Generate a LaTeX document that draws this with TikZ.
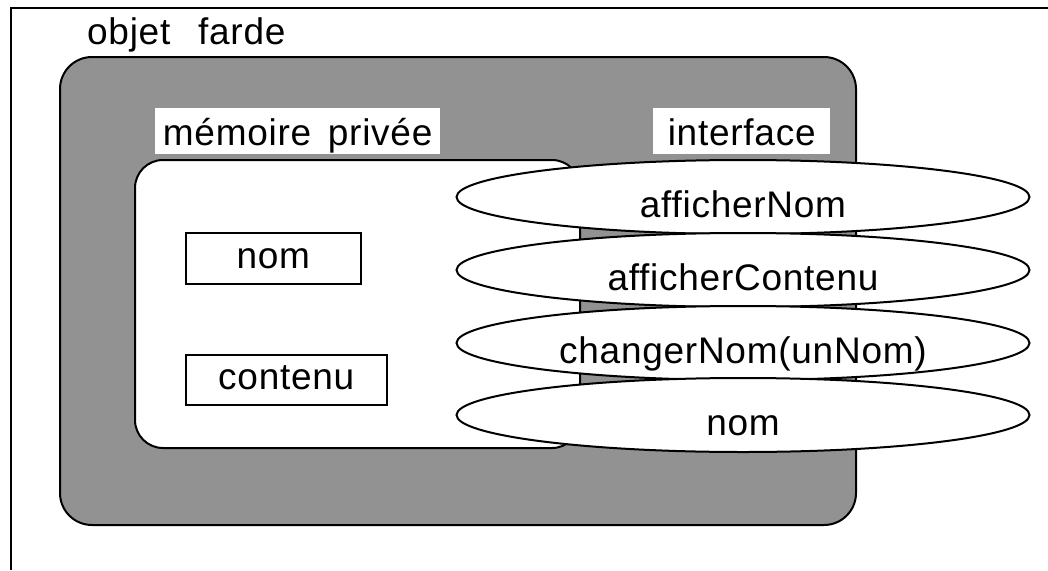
\documentclass[tikz,border=0pt]{standalone}
\usepackage{fontspec}
\setmainfont{Liberation Sans}[LetterSpace=2,Ligatures=NoCommon]
\usetikzlibrary{shapes.geometric}
\definecolor{dither}{RGB}{146,146,146}
\begin{document}
\begin{tikzpicture}[x=1pt,y=-1pt,
  every node/.style={font=\fontsize{37}{42}\selectfont, inner sep=0pt},
  lbl/.style={fill=white, text height=37pt, text depth=9pt},
  field/.style={draw, line width=1.6pt, fill=white},
  method/.style={ellipse, draw, line width=2pt, fill=white, minimum width=573pt, minimum height=74pt, text height=41pt, text depth=0pt}]
\useasboundingbox (0,0) rectangle (1048,570);
\fill[white] (0,0) rectangle (1048,570);
\coordinate (ftr) at (1048,8);
\coordinate (ftl) at (11,8);
\coordinate (fbl) at (11,570);
\draw[line width=2.2pt] (ftr) -- (ftl) -- (fbl);
\node[anchor=base west] (titre) at (87,44) {objet\hspace{0.75em}farde};
\draw[fill=dither, line width=2pt, rounded corners=32pt] (60,57) rectangle (856,525);
\node[lbl, minimum width=285pt, anchor=north west] (mem) at (155,108) {mémoire\hspace{0.45em}privée};
\node[lbl, minimum width=177pt, anchor=north west] (iface) at (653,108) {interface};
\draw[fill=white, line width=2pt, rounded corners=28pt] (135,160) rectangle (580,448);
\node[field, minimum width=175pt, text height=36pt, text depth=15pt, anchor=north west] (nomf) at (185,232) {nom};
\node[field, minimum width=201pt, text height=35pt, text depth=15pt, anchor=north west] (contf) at (185,354) {contenu};
\node[method] (m1) at (743,197) {afficherNom};
\node[method] (m2) at (743,270) {afficherContenu};
\node[method] (m3) at (743,343) {changerNom(unNom)};
\node[method] (m4) at (743,415) {nom};
\end{tikzpicture}
\end{document}
